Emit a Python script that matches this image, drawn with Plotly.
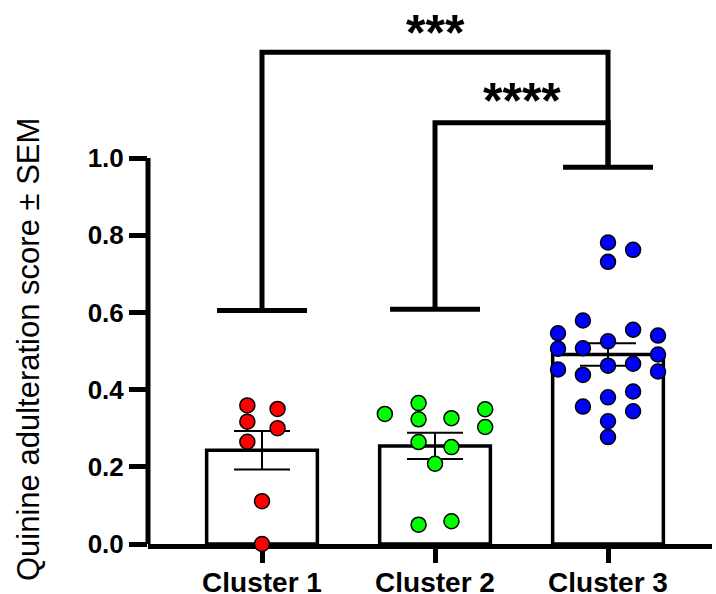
import plotly.graph_objects as go

# ---------------- data ----------------
categories = ["Cluster 1", "Cluster 2", "Cluster 3"]
means = [0.243, 0.254, 0.491]
sems = [0.050, 0.034, 0.029]

c1_values = [0.359, 0.317, 0.265, 0.350, 0.300, 0.111, 0.0]
c2_values = [0.337, 0.365, 0.323, 0.326, 0.349, 0.303, 0.264, 0.251, 0.208, 0.050, 0.059]
c3_values = [0.781, 0.731, 0.762, 0.579, 0.546, 0.555, 0.540, 0.525, 0.506, 0.507, 0.491,
             0.462, 0.467, 0.452, 0.447, 0.438, 0.380, 0.395, 0.356, 0.344, 0.318, 0.277]

# horizontal scatter offsets (category units) for each point
c1_offsets = [-0.085, -0.085, -0.085, 0.09, 0.09, 0.0, 0.0]
c2_offsets = [-0.29, -0.095, -0.095, 0.095, 0.29, 0.29, -0.095, 0.095, 0.0, -0.095, 0.095]
c3_offsets = [0.0, 0.0, 0.145, -0.145, -0.289, 0.145, 0.289, 0.0, -0.289, -0.145, 0.289,
              0.0, 0.145, -0.289, 0.289, -0.145, 0.0, 0.145, -0.145, 0.145, 0.0, 0.0]

point_colors = ["#FF0000", "#00FF00", "#0000FF"]

ytick_vals = [0.0, 0.2, 0.4, 0.6, 0.8, 1.0]
ytick_text = ["0.0", "0.2", "0.4", "0.6", "0.8", "1.0"]

# significance comparisons
cap_levels = [0.605, 0.608, 0.976]          # per-cluster cap height
comparisons = [(0, 2), (1, 2)]
comparison_levels = [1.274, 1.091]
comparison_labels = ["***", "****"]
label_levels = [1.325, 1.147]

# ---------------- figure ----------------
fig = go.Figure()

fig.add_trace(go.Bar(
    x=list(range(len(categories))), y=means, width=0.64,
    marker=dict(color="white", line=dict(color="black", width=3.5)),
    error_y=dict(type="data", array=sems, color="black", thickness=2, width=28),
    showlegend=False,
))

for i, (vals, offs) in enumerate([(c1_values, c1_offsets), (c2_values, c2_offsets), (c3_values, c3_offsets)]):
    fig.add_trace(go.Scatter(
        x=[i + o for o in offs], y=vals, mode="markers",
        marker=dict(size=15, color=point_colors[i], line=dict(color="black", width=1.5)),
        cliponaxis=False, showlegend=False,
    ))

# caps above each cluster
cap_half = 0.26
cx, cy = [], []
for i, lvl in enumerate(cap_levels):
    cx += [i - cap_half, i + cap_half, None]
    cy += [lvl, lvl, None]
fig.add_trace(go.Scatter(x=cx, y=cy, mode="lines", line=dict(color="black", width=5),
                         cliponaxis=False, showlegend=False, hoverinfo="skip"))

# brackets
for (a, b), lvl in zip(comparisons, comparison_levels):
    fig.add_trace(go.Scatter(
        x=[a, a, b, b], y=[cap_levels[a], lvl, lvl, cap_levels[b]], mode="lines",
        line=dict(color="black", width=5), cliponaxis=False, showlegend=False, hoverinfo="skip"))

for (a, b), lvl, txt in zip(comparisons, label_levels, comparison_labels):
    fig.add_annotation(x=(a + b) / 2, y=lvl, text="<b>%s</b>" % txt, showarrow=False,
                       xanchor="center", yanchor="middle",
                       font=dict(family="Arial, Liberation Sans", size=50, color="black"))

# y axis line (0 to 1.0 only)
fig.add_shape(type="line", xref="paper", yref="y", x0=0, x1=0, y0=0, y1=1.0,
              line=dict(color="black", width=5))

# y axis title
fig.add_annotation(xref="paper", yref="paper", x=(29 - 148) / 564, y=(544 - 350) / 544,
                   text="Quinine adulteration score ± SEM", textangle=-90, showarrow=False,
                   xanchor="center", yanchor="middle",
                   font=dict(family="Arial, Liberation Sans", size=31, color="black"))

fig.update_layout(
    width=716, height=594,
    margin=dict(l=148, r=4, t=0, b=50, autoexpand=False),
    paper_bgcolor="white", plot_bgcolor="white",
    xaxis=dict(range=[-0.659, 2.601], tickvals=list(range(len(categories))),
               ticktext=["<b>%s</b>" % c for c in categories],
               showline=True, linecolor="black", linewidth=5,
               ticks="outside", ticklen=14, tickwidth=4.5, tickcolor="black",
               ticklabelstandoff=-5,
               showgrid=False, zeroline=False, layer="below traces", automargin=False,
               tickfont=dict(family="Arial, Liberation Sans", size=28, color="black")),
    yaxis=dict(range=[0, 544 / 386], tickvals=ytick_vals,
               ticktext=["<b>%s</b>" % t for t in ytick_text],
               showline=False, ticks="outside", ticklen=18, tickwidth=4.5, tickcolor="black",
               showgrid=False, zeroline=False, automargin=False,
               tickfont=dict(family="Arial, Liberation Sans", size=26, color="black")),
    font=dict(family="Arial, Liberation Sans"),
)

fig.write_html("out.html", config={"displayModeBar": False},
               post_script="document.body.style.margin='0';document.body.style.overflow='hidden';")
